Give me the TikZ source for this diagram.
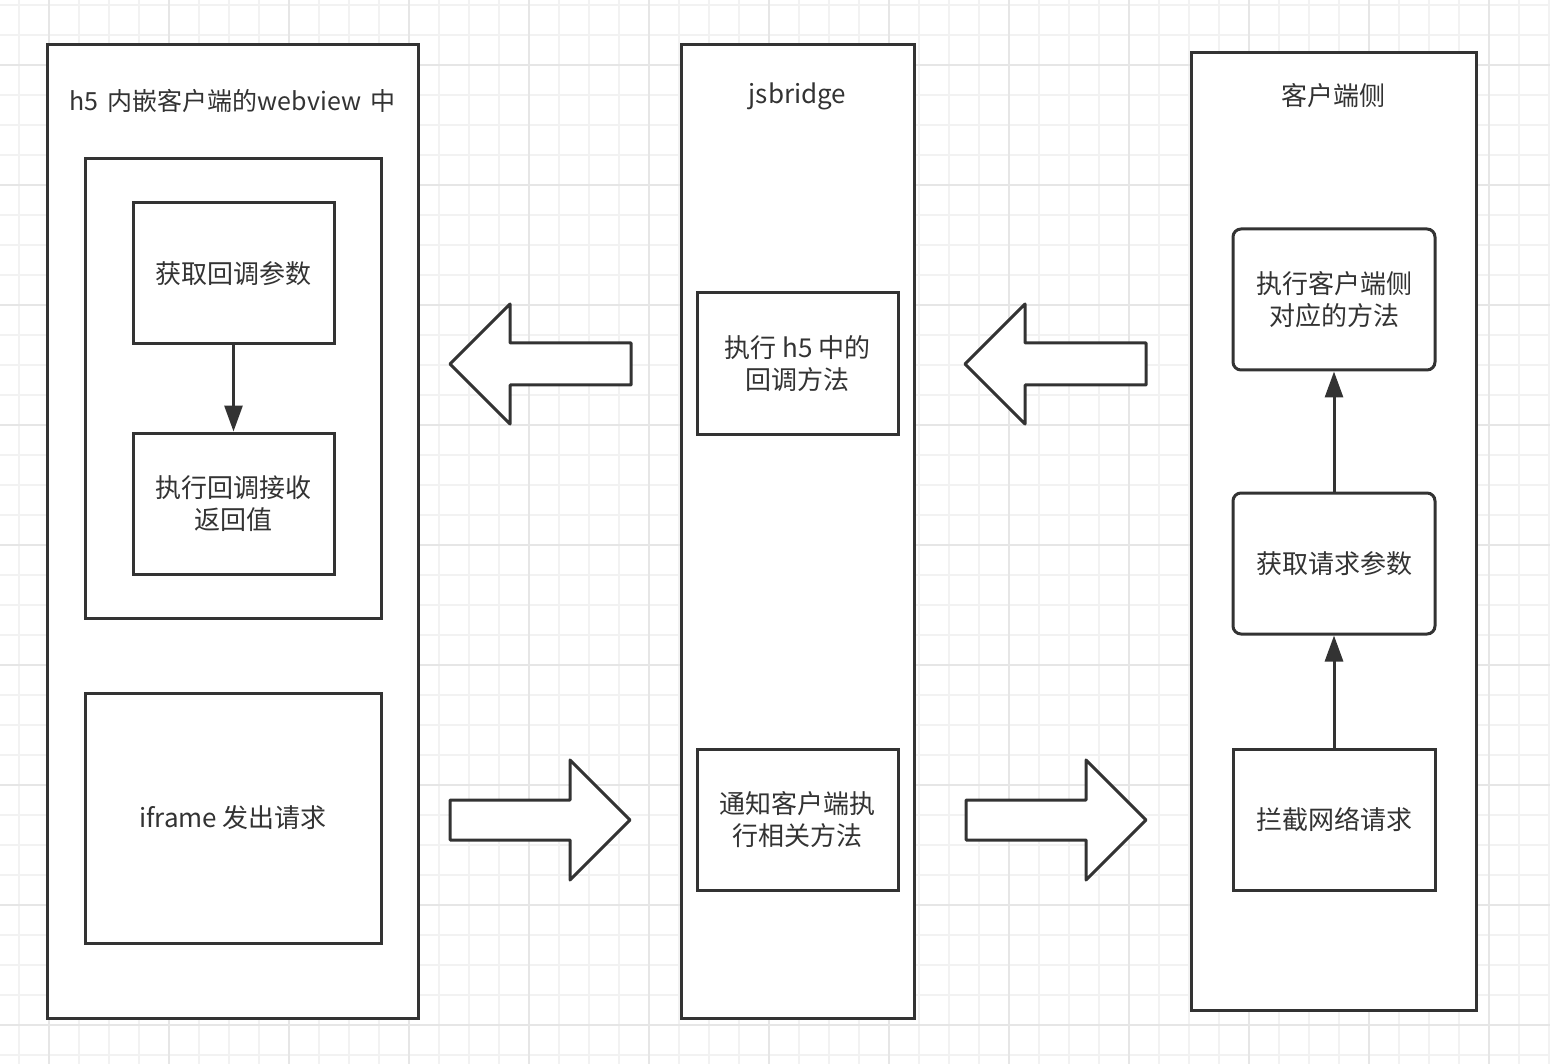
\documentclass[tikz,border=0pt]{standalone}
\usepackage{fontspec}
\setmainfont{Noto Sans CJK SC}
\usetikzlibrary{arrows.meta}
\definecolor{ink}{HTML}{333333}
\definecolor{gridminor}{HTML}{F2F2F2}
\definecolor{gridmajor}{HTML}{E6E6E6}
\begin{document}
\begin{tikzpicture}[x=1pt,y=-1pt,
  box/.style={draw=ink, line width=3pt, fill=white, inner sep=0pt, align=center,
    text=ink, font=\fontsize{26}{32}\selectfont},
  rbox/.style={box, rounded corners=8pt},
  title/.style={text=ink, inner sep=0pt, font=\fontsize{26}{32}\selectfont},
  conn/.style={draw=ink, line width=3pt, -{Triangle[length=26pt,width=18pt]}},
  blockarrow/.style={draw=ink, line width=3pt, fill=white, line join=round}]
\useasboundingbox (0,0) rectangle (1550,1064);
\fill[white] (0,0) rectangle (1550,1064);
% grid
\foreach \x in {19,49,...,1549} \draw[gridminor, line width=1.5pt] (\x,0) -- (\x,1064);
\foreach \y in {5,35,...,1064} \draw[gridminor, line width=1.5pt] (0,\y) -- (1550,\y);
\foreach \x in {49,169,...,1549} \draw[gridmajor, line width=1.5pt] (\x,0) -- (\x,1064);
\foreach \y in {65,185,...,1064} \draw[gridmajor, line width=1.5pt] (0,\y) -- (1550,\y);

% containers
\node[box, minimum width=371pt, minimum height=973pt] (left) at (232.5,531.5) {};
\node[box, minimum width=233pt, minimum height=973pt] (mid) at (797.5,531.5) {};
\node[box, minimum width=285pt, minimum height=957pt] (right) at (1333.5,531.5) {};
\node[title, font=\fontsize{25}{32}\selectfont] (lefttitle) at (232.5,101) {h5\hspace{0.38em}内嵌客户端的webview\hspace{0.38em}中};
\node[title] (midtitle) at (797.5,96) {jsbridge};
\node[title] (righttitle) at (1333.5,96) {客户端侧};

% left panel
\node[box, minimum width=296pt, minimum height=459pt] (inner) at (233,388.5) {};
\node[box, minimum width=201pt, minimum height=141pt] (getcb) at (233.5,273.5) {获取回调参数};
\node[box, minimum width=201pt, minimum height=141pt] (execcb) at (233.5,503.5) {执行回调接收\\返回值};
\node[box, minimum width=296pt, minimum height=250pt] (iframe) at (233,818) {iframe 发出请求};
\draw[conn] (getcb.south) -- (execcb.north);

% middle panel
\node[box, minimum width=201pt, minimum height=141pt] (midcb) at (797.5,363.5) {执行 h5 中的\\回调方法};
\node[box, minimum width=201pt, minimum height=141pt] (midnotify) at (797.5,819.5) {通知客户端执\\行相关方法};

% right panel
\node[rbox, minimum width=202pt, minimum height=141pt] (rexec) at (1334,299.5) {执行客户端侧\\对应的方法};
\node[rbox, minimum width=202pt, minimum height=141pt] (rget) at (1334,563.5) {获取请求参数};
\node[box, minimum width=202pt, minimum height=141pt] (rintercept) at (1334,819.5) {拦截网络请求};
\draw[conn] (rintercept.north) -- (rget.south);
\draw[conn] (rget.north) -- (rexec.south);

% block arrows
\draw[blockarrow] (631,343) -- (510,343) -- (510,304) -- (450,364) -- (510,424) -- (510,385) -- (631,385) -- cycle;
\draw[blockarrow] (1146,343) -- (1025,343) -- (1025,304) -- (965,364) -- (1025,424) -- (1025,385) -- (1146,385) -- cycle;
\draw[blockarrow] (450,800) -- (570,800) -- (570,760) -- (630,820) -- (570,880) -- (570,840) -- (450,840) -- cycle;
\draw[blockarrow] (966,800) -- (1086,800) -- (1086,760) -- (1146,820) -- (1086,880) -- (1086,840) -- (966,840) -- cycle;
\end{tikzpicture}
\end{document}
